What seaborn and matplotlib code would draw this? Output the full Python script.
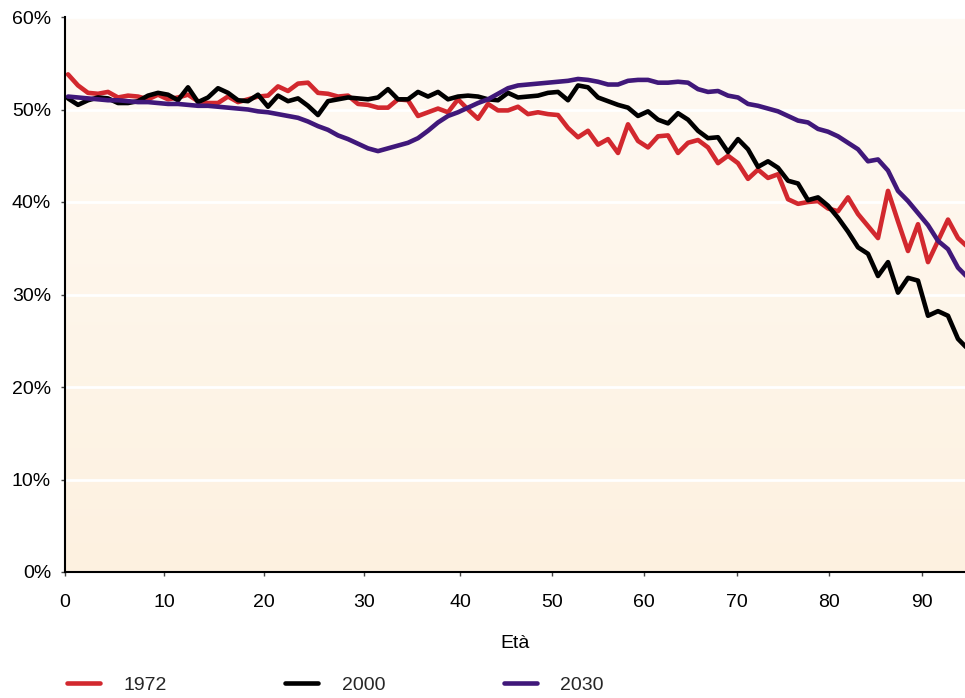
import numpy as np
import pandas as pd
import matplotlib
matplotlib.use('Agg')
import matplotlib.pyplot as plt
import seaborn as sns
from matplotlib.colors import LinearSegmentedColormap
from matplotlib.ticker import FuncFormatter

# share (%) by age
ages = list(range(0, 91))

y1972 = [53.8, 52.6, 51.8, 51.7, 51.9, 51.3, 51.5, 51.4, 51.1, 51.6,
         51.1, 51.3, 51.6, 50.9, 50.7, 50.7, 51.4, 50.8, 51.1, 51.4,
         51.5, 52.5, 52.0, 52.8, 52.9, 51.8, 51.7, 51.4, 51.5, 50.6,
         50.5, 50.2, 50.2, 51.1, 51.0, 49.3, 49.7, 50.1, 49.7, 51.1,
         50.0, 49.0, 50.6, 49.9, 49.9, 50.3, 49.5, 49.7, 49.5, 49.4,
         48.0, 47.0, 47.7, 46.2, 46.8, 45.3, 48.4, 46.6, 45.9, 47.1,
         47.2, 45.3, 46.4, 46.7, 45.9, 44.2, 45.0, 44.2, 42.5, 43.5,
         42.6, 43.0, 40.3, 39.8, 40.0, 40.1, 39.3, 39.0, 40.5, 38.7,
         37.4, 36.1, 41.2, 37.9, 34.7, 37.6, 33.5, 35.8, 38.1, 36.1,
         35.1]

y2000 = [51.2, 50.5, 51.0, 51.3, 51.2, 50.7, 50.7, 50.9, 51.5, 51.8,
         51.6, 51.0, 52.4, 50.8, 51.3, 52.3, 51.8, 51.0, 50.9, 51.6,
         50.3, 51.5, 50.9, 51.2, 50.4, 49.4, 50.9, 51.1, 51.3, 51.2,
         51.1, 51.3, 52.2, 51.1, 51.1, 51.9, 51.4, 51.9, 51.1, 51.4,
         51.5, 51.4, 51.1, 51.0, 51.8, 51.3, 51.4, 51.5, 51.8, 51.9,
         51.0, 52.6, 52.4, 51.3, 50.9, 50.5, 50.2, 49.3, 49.8, 48.9,
         48.5, 49.6, 48.9, 47.7, 46.9, 47.0, 45.4, 46.8, 45.7, 43.8,
         44.4, 43.7, 42.3, 42.0, 40.2, 40.5, 39.6, 38.3, 36.8, 35.1,
         34.4, 32.0, 33.5, 30.2, 31.8, 31.5, 27.7, 28.2, 27.7, 25.2,
         24.1]

y2030 = [51.4, 51.3, 51.2, 51.1, 51.0, 51.0, 50.9, 50.8, 50.8, 50.7,
         50.6, 50.6, 50.5, 50.4, 50.4, 50.3, 50.2, 50.1, 50.0, 49.8,
         49.7, 49.5, 49.3, 49.1, 48.7, 48.2, 47.8, 47.2, 46.8, 46.3,
         45.8, 45.5, 45.8, 46.1, 46.4, 46.9, 47.7, 48.6, 49.3, 49.7,
         50.2, 50.7, 51.1, 51.7, 52.3, 52.6, 52.7, 52.8, 52.9, 53.0,
         53.1, 53.3, 53.2, 53.0, 52.7, 52.7, 53.1, 53.2, 53.2, 52.9,
         52.9, 53.0, 52.9, 52.2, 51.9, 52.0, 51.5, 51.3, 50.6, 50.4,
         50.1, 49.8, 49.3, 48.8, 48.6, 47.9, 47.6, 47.1, 46.4, 45.7,
         44.4, 44.6, 43.4, 41.2, 40.1, 38.8, 37.5, 35.8, 34.9, 32.9,
         31.8]

years = ['1972', '2000', '2030']
colors = ['#D2282E', '#000000', '#40187A']

# x tick labels and where the source chart puts them
xtick_labels = ['0', '10', '20', '30', '40', '50', '60', '70', '80', '90']
xtick_pos = [-0.3, 9.6, 19.6, 29.6, 39.2, 48.4, 57.6, 66.9, 76.1, 85.4]

df = pd.DataFrame({
    'Età': ages * 3,
    'quota': y1972 + y2000 + y2030,
    'anno': np.repeat(years, len(ages)),
})

sns.set_theme(style='white')
plt.rcParams['font.family'] = ['Liberation Sans', 'DejaVu Sans']

fig = plt.figure(figsize=(9.65, 6.98), dpi=100)
ax = fig.add_axes([65 / 965, 1 - 572 / 698, 900 / 965, 555 / 698])

x0, x1 = -0.3, 89.7

# soft vertical gradient behind the plot
grad = np.linspace(0, 1, 256).reshape(-1, 1)
bg = LinearSegmentedColormap.from_list('bg', ['#FDF1E0', '#FFFAF4'])
ax.imshow(grad, aspect='auto', cmap=bg, extent=[x0, x1, 0, 60],
          origin='lower', zorder=0)

sns.lineplot(data=df, x='Età', y='quota', hue='anno', palette=colors,
             linewidth=3.3, ax=ax, zorder=3)

handles, labels = ax.get_legend_handles_labels()
ax.get_legend().remove()
for h in handles:
    h.set_linewidth(3.3)

ax.set_xlim(x0, x1)
ax.set_ylim(0, 60)
ax.set_yticks(range(0, 61, 10))
ax.yaxis.set_major_formatter(FuncFormatter(lambda v, p: f'{v:.0f}%'))
ax.set_xticks(xtick_pos)
ax.set_xticklabels(xtick_labels)

ax.set_axisbelow('line')
ax.yaxis.grid(True, color='white', linewidth=2)
ax.xaxis.grid(False)

sns.despine(ax=ax)
for s in ['left', 'bottom']:
    ax.spines[s].set_color('black')
    ax.spines[s].set_linewidth(1.5)
    ax.spines[s].set_zorder(4)

ax.tick_params(axis='x', bottom=True, direction='out', length=3, width=1,
               color='#444444', labelsize=14, pad=13, labelcolor='black')
ax.tick_params(axis='y', left=True, direction='out', length=3, width=1,
               color='#444444', labelsize=14, pad=7, labelcolor='black')

ax.set_xlabel('Età', fontsize=14, labelpad=17, color='black')
ax.set_ylabel('')

fig.legend(handles, labels, loc='center left',
           bbox_to_anchor=(67 / 965, 1 - 685 / 698), ncol=3, frameon=False,
           fontsize=14, handlelength=1.7, handletextpad=1.2,
           columnspacing=6.1, borderpad=0, borderaxespad=0)

fig.savefig('out.png', dpi=100)
